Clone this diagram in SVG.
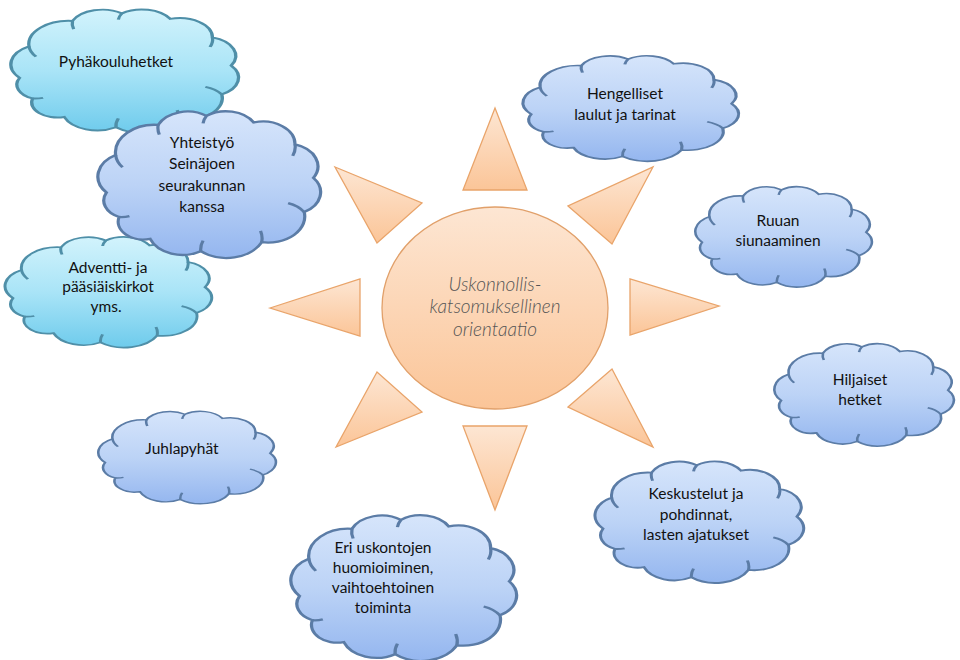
<svg xmlns="http://www.w3.org/2000/svg" xmlns:xlink="http://www.w3.org/1999/xlink" width="960" height="660" viewBox="0 0 960 660">
<defs>
<linearGradient id="gBlue" x1="0" y1="0" x2="0" y2="1">
<stop offset="0" stop-color="#d6e5fb"/><stop offset="0.5" stop-color="#bcd3f6"/><stop offset="1" stop-color="#94b6ef"/>
</linearGradient>
<linearGradient id="gCyan" x1="0" y1="0" x2="0" y2="1">
<stop offset="0" stop-color="#d2f3fc"/><stop offset="0.5" stop-color="#a9e4f7"/><stop offset="1" stop-color="#6ecbec"/>
</linearGradient>
<linearGradient id="gOrange" x1="0" y1="0" x2="0" y2="1">
<stop offset="0" stop-color="#fde6d3"/><stop offset="1" stop-color="#fbc598"/>
</linearGradient>
<path id="cloudOutline" transform="matrix(1.036,0,0,1.116,-2.28,-2.68)" d="M 5,55.5 A 15,15 0 0 1 9,32.5 A 17,17 0 0 1 27.5,14 A 14,14 0 0 1 48.5,8.5 A 14,14 0 0 1 69,12.5 A 14,14 0 0 1 87,26 A 14,14 0 0 1 95,46.5 A 14,14 0 0 1 91,67.5 A 16,16 0 0 1 72.5,86 A 17,17 0 0 1 46,91.5 A 15,15 0 0 1 24,84 A 11,11 0 0 1 10.5,70.5 A 11,11 0 0 1 5,55.5 Z"/>
<path id="cloudCreases" transform="matrix(1.036,0,0,1.116,-2.28,-2.68)" d="M 9,32.5 A 14,14 0 0 0 12,40 M 27.5,14 A 14,14 0 0 0 28,20 M 48.5,8.5 A 12,12 0 0 0 47,13 M 87,26 A 14,14 0 0 1 86,33 M 91,67.5 A 14,14 0 0 0 84,62 M 72.5,86 A 16,16 0 0 0 72,79 M 46,91.5 A 15,15 0 0 1 47,85 M 10.5,70.5 A 11,11 0 0 0 15,70"/>
<style>
.cb .o { fill: url(#gBlue); stroke: #5b7ca6; stroke-width: 1.4; }
.cc .o { fill: url(#gCyan); stroke: #4f8fa8; stroke-width: 1.4; }
.cr { fill: none; stroke-width: 1.4; }
.cb .cr { stroke: #5b7ca6; }
.cc .cr { stroke: #4f8fa8; }
.t { font-family: Lato, "Open Sans", sans-serif; font-size: 15.5px; fill: #111; text-anchor: middle; }
.ray { fill: url(#gOrange); stroke: #e9a46a; stroke-width: 1.3; }
.sun { fill: url(#gOrange); stroke: #e1a06a; stroke-width: 1.3; }
.ct { font-family: Lato, "Open Sans", sans-serif; font-style: italic; font-weight: 300; font-size: 19px; fill: #555; text-anchor: middle; }
</style>
</defs>
<rect width="960" height="660" fill="#ffffff"/>

<g id="sun-rays">
<polygon class="ray" points="463,190 527,190 495,108"/>
<polygon class="ray" points="568,206 612,244 653,167"/>
<polygon class="ray" points="630,279 630,335 719,306"/>
<polygon class="ray" points="568,407 612,369 653,447"/>
<polygon class="ray" points="463,426 527,426 495,510"/>
<polygon class="ray" points="336,447 377,372 422,412"/>
<polygon class="ray" points="270,308 360,279 360,336"/>
<polygon class="ray" points="335,167 422,203 377,243"/>
</g>

<g id="center">
<ellipse class="sun" cx="495" cy="308" rx="113" ry="101"/>
<text class="ct" x="495" y="291">Uskonnollis-</text>
<text class="ct" x="495" y="313">katsomuksellinen</text>
<text class="ct" x="495" y="336">orientaatio</text>
</g>

<g id="pyhakouluhetket" class="cc">
<g transform="translate(13,5) scale(2.27,1.23)">
<use xlink:href="#cloudOutline" class="o" vector-effect="non-scaling-stroke"/>
<use xlink:href="#cloudCreases" class="cr" vector-effect="non-scaling-stroke"/>
</g>
<text class="t" x="116" y="67">Pyhäkouluhetket</text>
</g>

<g id="adventti" class="cc">
<g transform="translate(7,233) scale(2.06,1.10)">
<use xlink:href="#cloudOutline" class="o" vector-effect="non-scaling-stroke"/>
<use xlink:href="#cloudCreases" class="cr" vector-effect="non-scaling-stroke"/>
</g>
<text class="t" x="108" y="273">Adventti- ja</text>
<text class="t" x="108" y="292">pääsiäiskirkot</text>
<text class="t" x="106" y="312">yms.</text>
</g>

<g id="yhteistyo" class="cb">
<g transform="translate(100,106) scale(2.22,1.46)">
<use xlink:href="#cloudOutline" class="o" vector-effect="non-scaling-stroke"/>
<use xlink:href="#cloudCreases" class="cr" vector-effect="non-scaling-stroke"/>
</g>
<text class="t" x="202" y="148">Yhteistyö</text>
<text class="t" x="202" y="169">Seinäjoen</text>
<text class="t" x="202" y="191">seurakunnan</text>
<text class="t" x="202" y="212">kanssa</text>
</g>

<g id="hengelliset" class="cb">
<g transform="translate(525,52) scale(2.15,1.05)">
<use xlink:href="#cloudOutline" class="o" vector-effect="non-scaling-stroke"/>
<use xlink:href="#cloudCreases" class="cr" vector-effect="non-scaling-stroke"/>
</g>
<text class="t" x="625" y="99">Hengelliset</text>
<text class="t" x="625" y="120">laulut ja tarinat</text>
</g>

<g id="ruuan" class="cb">
<g transform="translate(697,183) scale(1.76,1.0)">
<use xlink:href="#cloudOutline" class="o" vector-effect="non-scaling-stroke"/>
<use xlink:href="#cloudCreases" class="cr" vector-effect="non-scaling-stroke"/>
</g>
<text class="t" x="778" y="226">Ruuan</text>
<text class="t" x="778" y="246">siunaaminen</text>
</g>

<g id="hiljaiset" class="cb">
<g transform="translate(776,340) scale(1.79,1.02)">
<use xlink:href="#cloudOutline" class="o" vector-effect="non-scaling-stroke"/>
<use xlink:href="#cloudCreases" class="cr" vector-effect="non-scaling-stroke"/>
</g>
<text class="t" x="860" y="385">Hiljaiset</text>
<text class="t" x="860" y="405">hetket</text>
</g>

<g id="juhlapyhat" class="cb">
<g transform="translate(100,408) scale(1.77,0.92)">
<use xlink:href="#cloudOutline" class="o" vector-effect="non-scaling-stroke"/>
<use xlink:href="#cloudCreases" class="cr" vector-effect="non-scaling-stroke"/>
</g>
<text class="t" x="182" y="454">Juhlapyhät</text>
</g>

<g id="eri-uskontojen" class="cb">
<g transform="translate(293,510) scale(2.25,1.45)">
<use xlink:href="#cloudOutline" class="o" vector-effect="non-scaling-stroke"/>
<use xlink:href="#cloudCreases" class="cr" vector-effect="non-scaling-stroke"/>
</g>
<text class="t" x="383" y="553">Eri uskontojen</text>
<text class="t" x="383" y="573">huomioiminen,</text>
<text class="t" x="383" y="593">vaihtoehtoinen</text>
<text class="t" x="383" y="613">toiminta</text>
</g>

<g id="keskustelut" class="cb">
<g transform="translate(597,457) scale(2.08,1.21)">
<use xlink:href="#cloudOutline" class="o" vector-effect="non-scaling-stroke"/>
<use xlink:href="#cloudCreases" class="cr" vector-effect="non-scaling-stroke"/>
</g>
<text class="t" x="696" y="499">Keskustelut ja</text>
<text class="t" x="696" y="520">pohdinnat,</text>
<text class="t" x="696" y="540">lasten ajatukset</text>
</g>
</svg>
